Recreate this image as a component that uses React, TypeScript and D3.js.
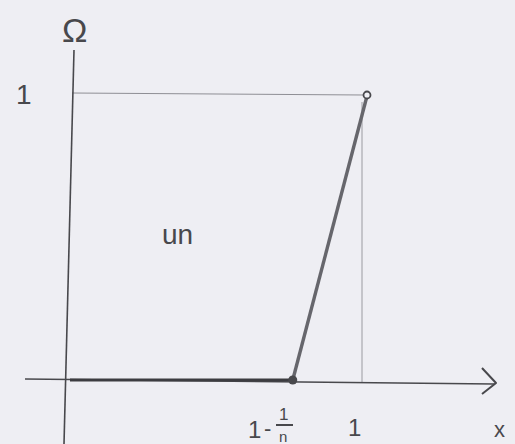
import React from "react";
import * as d3 from "d3";

// Piecewise-linear function u_n on [0, 1]: zero up to 1 - 1/n, then rising to 1 at x = 1
const n = 4;
const xDomain = [0, 1];
const yDomain = [0, 1];
const breakX = 1 - 1 / n;
const curveX = [0, breakX, 1];
const curveY = [0, 0, 1];
const xTickLabels = ["1"];
const yTickLabels = ["1"];

const W = 515;
const H = 444;

export default function App() {
  const x = d3.scaleLinear().domain(xDomain).range([70, 367]);
  const y = d3.scaleLinear().domain(yDomain).range([380, 96]);
  const flat: [number, number][] = [
    [curveX[0], curveY[0]],
    [curveX[1], curveY[1]],
  ];
  const ramp: [number, number][] = [
    [curveX[1], curveY[1]],
    [curveX[2], curveY[2]],
  ];
  const line = d3
    .line<[number, number]>()
    .x((d) => x(d[0]))
    .y((d) => y(d[1]));
  const ink = "#48484c";
  const font = "'Liberation Sans', 'DejaVu Sans', sans-serif";
  const bg = "#eeeef3";

  return (
    <svg
      width={W}
      height={H}
      style={{ position: "fixed", left: 0, top: 0, display: "block" }}
    >
      <rect width={W} height={H} fill={bg} />
      {/* guide lines at y = 1 and x = 1 */}
      <line x1={x(0) + 2} y1={y(1) - 3} x2={x(1) - 3} y2={y(1) - 1} stroke="#8e8e94" strokeWidth={1} />
      <line x1={x(1) - 5} y1={y(1) + 6} x2={x(1) - 5} y2={y(0) + 2} stroke="#9a9aa0" strokeWidth={1} />
      {/* x axis */}
      <line x1={25} y1={y(0) - 1} x2={494} y2={y(0) + 4} stroke={ink} strokeWidth={1.6} />
      <path d={`M482,${y(0) - 12} L496,${y(0) + 3} L482,${y(0) + 14}`} fill="none" stroke={ink} strokeWidth={2} strokeLinejoin="round" />
      {/* y axis */}
      <line x1={74} y1={50} x2={64} y2={H} stroke={ink} strokeWidth={1.6} />
      {/* function graph */}
      <path d={line(flat) ?? ""} fill="none" stroke="#3c3c40" strokeWidth={3.2} />
      <path d={line(ramp) ?? ""} fill="none" stroke="#66666c" strokeWidth={3.4} />
      <circle cx={x(breakX)} cy={y(0)} r={4.5} fill={ink} />
      <circle cx={x(1)} cy={y(1) - 1} r={3.5} fill={bg} stroke={ink} strokeWidth={1.8} />
      {/* labels */}
      <text x={16} y={104} fontFamily={font} fontSize={28} fill={ink}>{yTickLabels[0]}</text>
      <text x={348} y={436} fontFamily={font} fontSize={24} fill={ink}>{xTickLabels[0]}</text>
      <text x={162} y={244} fontFamily={font} fontSize={28} fill={ink}>un</text>
      <text x={62} y={42} fontFamily={font} fontSize={34} fill={ink}>Ω</text>
      <text x={494} y={437} fontFamily={font} fontSize={22} fill={ink}>x</text>
      <g fontFamily={font} fill={ink}>
        <text x={248} y={438} fontSize={24}>1</text>
        <text x={264} y={436} fontSize={22}>-</text>
        <text x={279} y={420} fontSize={17}>1</text>
        <line x1={276} y1={425} x2={293} y2={425} stroke={ink} strokeWidth={2} />
        <text x={279} y={442} fontSize={15}>n</text>
      </g>
    </svg>
  );
}
